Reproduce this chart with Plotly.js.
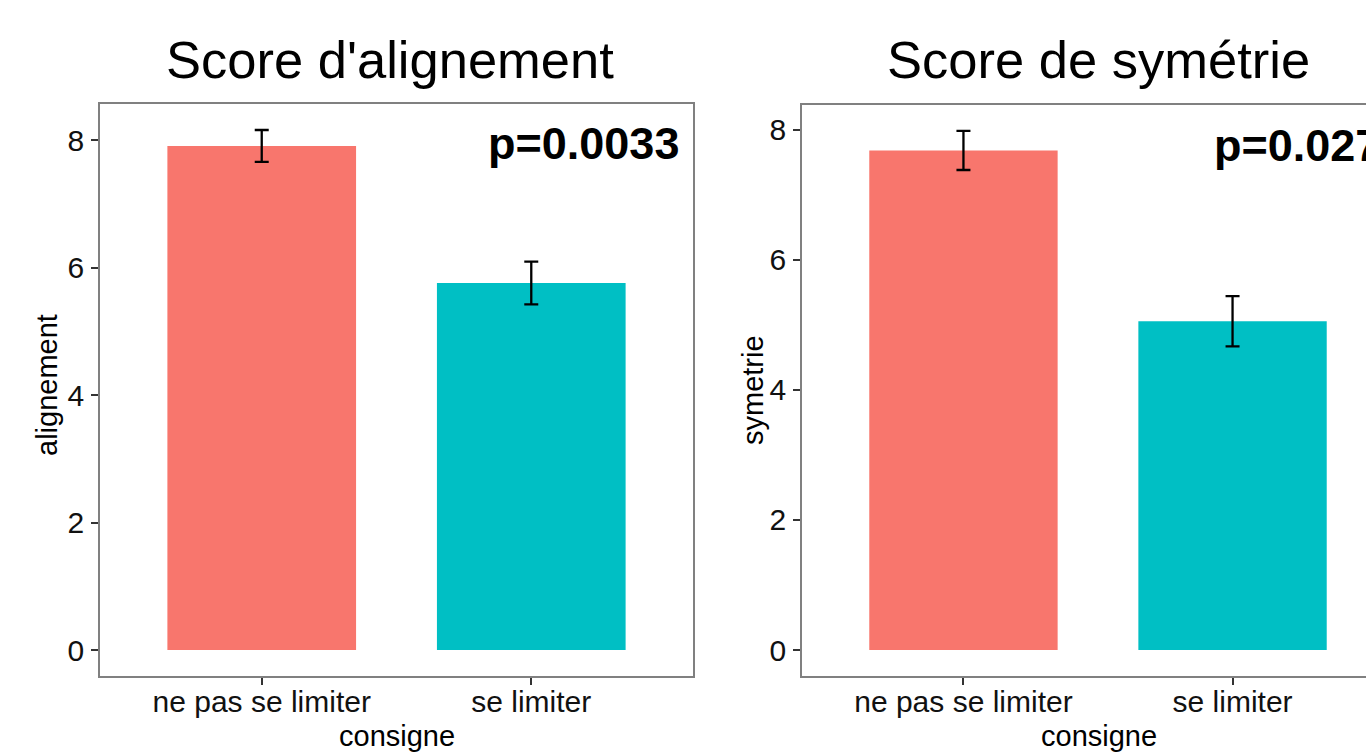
<!DOCTYPE html>
<html>
<head>
<meta charset="utf-8">
<script src="https://cdn.plot.ly/plotly-3.0.1.min.js"></script>
<style>
html, body { margin: 0; padding: 0; overflow: hidden; background: #fff; }
#chart { width: 1400px; height: 755px; }
</style>
</head>
<body>
<div id="chart"></div>
<script>
// ---- data ----
const categories = ["ne pas se limiter", "se limiter"];
const barColors = ["#F8766D", "#00BFC4"];

const alignementMean = [7.91, 5.76];
const alignementErr = [0.25, 0.335];
const alignementP = "p=0.0033";

const symetrieMean = [7.68, 5.055];
const symetrieErr = [0.30, 0.387];
const symetrieP = "p=0.027";

const panelTitles = ["Score d'alignement", "Score de symétrie"];
const yTitles = ["alignement", "symetrie"];
const xTitle = "consigne";
const yTickVals = [0, 2, 4, 6, 8];

// ---- layout helpers ----
const W = 1400, H = 755;
const FONT = "Liberation Sans, Arial, Helvetica, sans-serif";
const px = v => v / W;
const py = v => 1 - v / H;

function yRange(mean, err) {
  const top = Math.max(...mean.map((m, i) => m + err[i]));
  return [-0.05 * top, 1.05 * top];
}

function barTrace(mean, err, xa, ya) {
  return {
    type: "bar",
    x: categories,
    y: mean,
    xaxis: xa, yaxis: ya,
    width: 0.7,
    marker: { color: barColors, line: { width: 0 } },
    error_y: { type: "data", array: err, visible: true, color: "#000", thickness: 2.3, width: 7 },
    hoverinfo: "x+y",
    showlegend: false
  };
}

const axisCommon = {
  showline: true, mirror: true, linecolor: "#808080", linewidth: 1.6,
  showgrid: false, zeroline: false,
  ticks: "outside", ticklen: 7, tickwidth: 1.6, tickcolor: "#333",
  tickfont: { family: FONT, size: 30, color: "#111" },
  fixedrange: true
};

const xCommon = Object.assign({}, axisCommon, {
  type: "category", range: [-0.6, 1.6], ticklabelstandoff: -9
});
const yCommon = Object.assign({}, axisCommon, {
  tickvals: yTickVals, ticklabelstandoff: 1
});

const layout = {
  width: W, height: H,
  margin: { l: 0, r: 0, t: 0, b: 0, pad: 0 },
  paper_bgcolor: "#fff", plot_bgcolor: "#fff",
  bargap: 0.3,
  xaxis: Object.assign({}, xCommon, { domain: [px(100), px(693)], anchor: "y" }),
  yaxis: Object.assign({}, yCommon, { domain: [py(676), py(104)], range: yRange(alignementMean, alignementErr), anchor: "x" }),
  xaxis2: Object.assign({}, xCommon, { domain: [px(802), px(1394)], anchor: "y2" }),
  yaxis2: Object.assign({}, yCommon, { domain: [py(676), py(105)], range: yRange(symetrieMean, symetrieErr), anchor: "x2" }),
  annotations: [
    { text: panelTitles[0], xref: "paper", yref: "paper", x: px(390), y: py(60), xanchor: "center", yanchor: "middle", showarrow: false, font: { family: FONT, size: 52.5, color: "#000" } },
    { text: panelTitles[1], xref: "paper", yref: "paper", x: px(1098), y: py(60), xanchor: "center", yanchor: "middle", showarrow: false, font: { family: FONT, size: 52.5, color: "#000" } },
    { text: yTitles[0], xref: "paper", yref: "paper", x: px(47), y: py(385), xanchor: "center", yanchor: "middle", textangle: -90, showarrow: false, font: { family: FONT, size: 29, color: "#000" } },
    { text: yTitles[1], xref: "paper", yref: "paper", x: px(753), y: py(390), xanchor: "center", yanchor: "middle", textangle: -90, showarrow: false, font: { family: FONT, size: 29, color: "#000" } },
    { text: xTitle, xref: "paper", yref: "paper", x: px(397), y: py(736), xanchor: "center", yanchor: "middle", showarrow: false, font: { family: FONT, size: 29, color: "#000" } },
    { text: xTitle, xref: "paper", yref: "paper", x: px(1099), y: py(736), xanchor: "center", yanchor: "middle", showarrow: false, font: { family: FONT, size: 29, color: "#000" } },
    { text: "<b>" + alignementP + "</b>", xref: "x", yref: "y", x: 1.555, y: 7.95, xanchor: "right", yanchor: "middle", showarrow: false, font: { family: FONT, size: 45, color: "#000" } },
    { text: "<b>" + symetrieP + "</b>", xref: "x2", yref: "y2", x: 1.555, y: 7.76, xanchor: "right", yanchor: "middle", showarrow: false, font: { family: FONT, size: 45, color: "#000" } }
  ]
};

Plotly.newPlot("chart", [
  barTrace(alignementMean, alignementErr, "x", "y"),
  barTrace(symetrieMean, symetrieErr, "x2", "y2")
], layout, { displayModeBar: false, staticPlot: false });
</script>
</body>
</html>
